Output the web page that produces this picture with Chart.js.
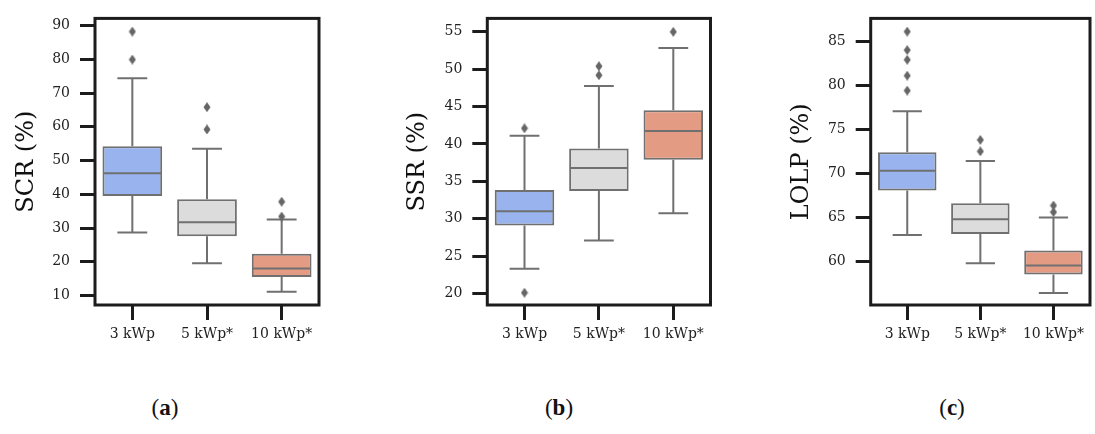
<!DOCTYPE html>
<html>
<head>
<meta charset="utf-8">
<script src="https://cdn.jsdelivr.net/npm/chart.js@4.4.1/dist/chart.umd.min.js"></script>
<style>
  body { margin: 0; background: #fff; width: 1095px; height: 434px; position: relative; overflow: hidden; }
  .panel { position: absolute; top: 0; height: 350px; }
  .cap { position: absolute; top: 395px; font: 23px 'Liberation Serif', serif; color: #111; transform: translateX(-50%); }
</style>
</head>
<body>
<div class="panel" style="left:0;width:330px"><canvas id="chart-scr"></canvas></div>
<div class="panel" style="left:390px;width:330px"><canvas id="chart-ssr"></canvas></div>
<div class="panel" style="left:770px;width:325px"><canvas id="chart-lolp"></canvas></div>
<div class="cap" style="left:165px">(<b>a</b>)</div>
<div class="cap" style="left:559px">(<b>b</b>)</div>
<div class="cap" style="left:952px">(<b>c</b>)</div>
<script>
// ---------------------- DATA -------------------------
const categories = ['3 kWp', '5 kWp*', '10 kWp*'];
const boxColors = ['#99b3ef', '#dcdcdc', '#e49b84'];

// (a) self-consumption rate
const scrLow = [28.7, 19.6, 11.1];
const scrQ1 = [39.5, 27.6, 15.5];
const scrMed = [46.2, 31.7, 18.0];
const scrQ3 = [54.2, 38.5, 22.4];
const scrHigh = [74.4, 53.5, 32.5];
const scrOut = [[88.2, 79.9], [65.8, 59.2], [37.8, 33.4]];

// (b) self-sufficiency rate
const ssrLow = [23.3, 27.1, 30.75];
const ssrQ1 = [29.1, 33.7, 37.9];
const ssrMed = [31.0, 36.8, 41.75];
const ssrQ3 = [33.85, 39.4, 44.5];
const ssrHigh = [41.1, 47.75, 52.85];
const ssrOut = [[42.1, 20.1], [50.4, 49.2], [55.0]];

// (c) loss of load probability
const lolpLow = [63.0, 59.8, 56.4];
const lolpQ1 = [68.05, 63.1, 58.5];
const lolpMed = [70.3, 64.8, 59.55];
const lolpQ3 = [72.4, 66.6, 61.25];
const lolpHigh = [77.05, 71.4, 65.0];
const lolpOut = [[86.1, 84.0, 82.9, 81.1, 79.4], [73.8, 72.5], [66.35, 65.6]];

// ---------------------- HELPERS -------------------------
const EDGE = '#707070';
const FRAME = '#1c1c1c';

function diamondImage() {
      const c = document.createElement('canvas');
      c.width = 8; c.height = 10;
      const g = c.getContext('2d');
      g.fillStyle = '#666';
      g.beginPath();
      g.moveTo(4, 0); g.lineTo(7.5, 5); g.lineTo(4, 10); g.lineTo(0.5, 5);
      g.closePath();
      g.fill();
      return c;
}
const diamond = diamondImage();

// whiskers behind the boxes, medians on top, black frame round the plot
function boxPlugin(stats) {
      return {
            id: 'boxExtras',
            beforeDatasetsDraw(chart) {
                  const { ctx, scales: { x, y } } = chart;
                  const meta = chart.getDatasetMeta(0);
                  ctx.save();
                  ctx.strokeStyle = EDGE;
                  ctx.lineWidth = 2;
                  meta.data.forEach((bar, i) => {
                        const cx = x.getPixelForValue(i);
                        const cap = bar.width / 4;
                        const yLow = y.getPixelForValue(stats.low[i]);
                        const yHigh = y.getPixelForValue(stats.high[i]);
                        ctx.beginPath();
                        ctx.moveTo(cx, y.getPixelForValue(stats.q3[i])); ctx.lineTo(cx, yHigh);
                        ctx.moveTo(cx, y.getPixelForValue(stats.q1[i])); ctx.lineTo(cx, yLow);
                        ctx.moveTo(cx - cap, yHigh); ctx.lineTo(cx + cap, yHigh);
                        ctx.moveTo(cx - cap, yLow); ctx.lineTo(cx + cap, yLow);
                        ctx.stroke();
                  });
                  ctx.restore();
            },
            afterDatasetsDraw(chart) {
                  const { ctx, scales: { x, y } } = chart;
                  const meta = chart.getDatasetMeta(0);
                  ctx.save();
                  ctx.strokeStyle = EDGE;
                  ctx.lineWidth = 2;
                  meta.data.forEach((bar, i) => {
                        const cx = x.getPixelForValue(i);
                        const half = bar.width / 2;
                        const yMed = y.getPixelForValue(stats.med[i]);
                        ctx.beginPath();
                        ctx.moveTo(cx - half + 1, yMed); ctx.lineTo(cx + half - 1, yMed);
                        ctx.stroke();
                  });
                  const a = chart.chartArea;
                  ctx.strokeStyle = FRAME;
                  ctx.lineWidth = 3;
                  ctx.strokeRect(a.left, a.top, a.right - a.left, a.bottom - a.top);
                  ctx.restore();
            }
      };
}

function drawBoxChart(id, title, stats, yMin, yMax, step, axisWidth, titlePad, rightPad) {
      const ctx = document.getElementById(id).getContext('2d');
      const outliers = [];
      stats.out.forEach((vals, i) => vals.forEach(v => outliers.push({ x: categories[i], y: v })));

      return new Chart(ctx, {
            type: 'bar',
            data: {
                  labels: categories,
                  datasets: [
                  {
                        label: title,
                        data: stats.q1.map((v, i) => [v, stats.q3[i]]),
                        backgroundColor: boxColors,
                        borderColor: EDGE,
                        borderWidth: 2,
                        borderSkipped: false,
                        barPercentage: 0.8,
                        categoryPercentage: 1.0
                  },
                  {
                        type: 'line',
                        label: 'outliers',
                        data: outliers,
                        showLine: false,
                        pointStyle: diamond,
                        pointRadius: 4,
                        pointHoverRadius: 4
                  }
                  ]
            },
            options: {
                  responsive: true,
                  maintainAspectRatio: false,
                  animation: false,
                  layout: { padding: { left: 0, top: 14, right: rightPad, bottom: 0 } },
                  plugins: { legend: { display: false }, tooltip: { enabled: false } },
                  scales: {
                  x: {
                        afterFit: s => { s.height = 45; },
                        border: { display: false },
                        grid: { offset: false, drawOnChartArea: false, lineWidth: 3, tickLength: 15, tickWidth: 3, tickColor: FRAME },
                        ticks: { color: '#222', padding: 6, font: { family: 'DejaVu Serif', size: 14 } }
                  },
                  y: {
                        min: yMin,
                        max: yMax,
                        afterFit: s => { s.width = axisWidth; },
                        border: { display: false },
                        grid: { drawOnChartArea: false, lineWidth: 3, tickLength: 15, tickWidth: 3, tickColor: FRAME },
                        ticks: { stepSize: step, includeBounds: false, color: '#222', padding: 10, font: { family: 'DejaVu Serif', size: 14 } },
                        title: { display: true, text: title, color: '#111', padding: { top: titlePad, bottom: 0 }, font: { family: 'DejaVu Serif', size: 24 } }
                  }
                  }
            },
            plugins: [boxPlugin(stats)]
      });
}

drawBoxChart('chart-scr', 'SCR (%)',
      { low: scrLow, q1: scrQ1, med: scrMed, q3: scrQ3, high: scrHigh, out: scrOut },
      7.2, 92.1, 10, 95, 12.6, 11);
drawBoxChart('chart-ssr', 'SSR (%)',
      { low: ssrLow, q1: ssrQ1, med: ssrMed, q3: ssrQ3, high: ssrHigh, out: ssrOut },
      18.46, 56.8, 5, 97.3, 13.6, 9.5);
drawBoxChart('chart-lolp', 'LOLP (%)',
      { low: lolpLow, q1: lolpQ1, med: lolpMed, q3: lolpQ3, high: lolpHigh, out: lolpOut },
      55.05, 87.6, 5, 100.7, 17.3, 1.7);
</script>
</body>
</html>
